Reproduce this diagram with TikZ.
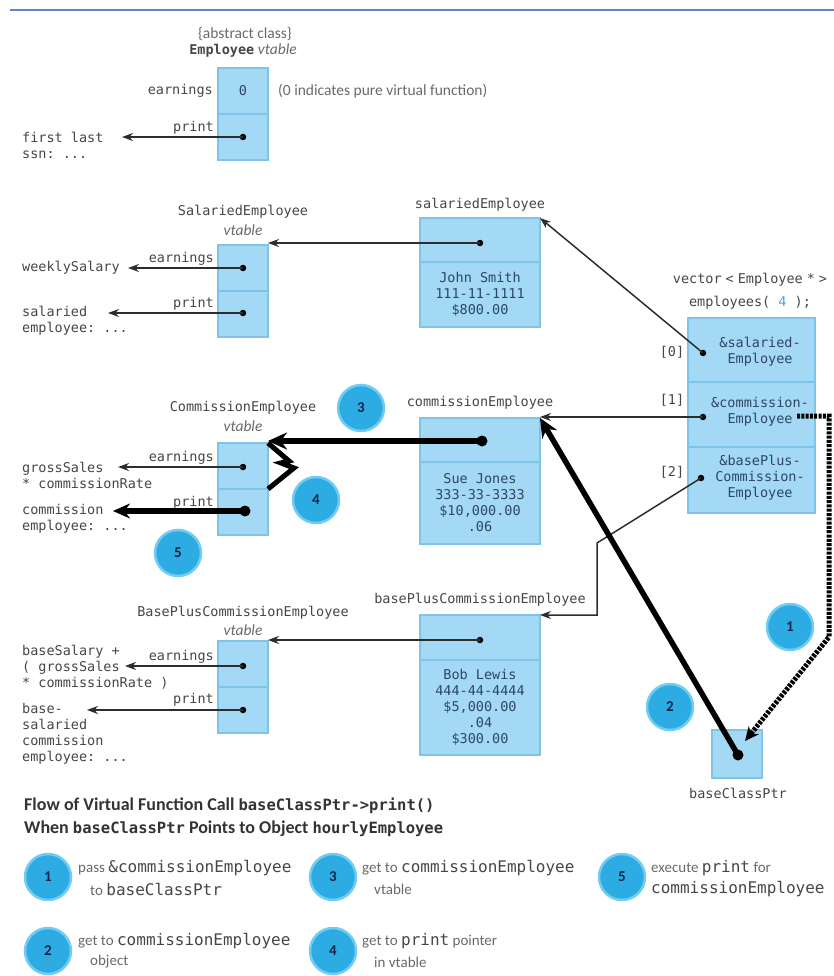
\documentclass[tikz,border=0pt]{standalone}
\usepackage{fontspec}
\setmainfont{Carlito}
\setmonofont{DejaVu Sans Mono}
\usetikzlibrary{positioning,arrows.meta}

\definecolor{cellblue}{RGB}{163,217,245}
\definecolor{celledge}{RGB}{128,195,232}
\definecolor{celltext}{RGB}{45,70,100}
\definecolor{bubblefill}{RGB}{45,172,228}
\definecolor{bubblerim}{RGB}{115,205,242}
\definecolor{navy}{RGB}{20,35,70}
\definecolor{ink}{RGB}{70,70,70}
\definecolor{softink}{RGB}{105,105,105}
\definecolor{arrowink}{RGB}{45,45,45}
\definecolor{rulecol}{RGB}{95,135,200}
\definecolor{numblue}{RGB}{70,165,225}

\newcommand{\mono}{\ttfamily\fontsize{13.5}{16}\selectfont}
\newcommand{\notefont}{\fontsize{15.5}{18}\selectfont}
\newcommand{\legfont}{\fontsize{15}{20}\selectfont}
\newcommand{\legmono}{\ttfamily\fontsize{16}{20}\selectfont}
\newcommand{\titlemono}{\ttfamily\fontsize{15.5}{18}\selectfont}
\newcommand{\gap}{\hspace{4pt}}

\tikzset{
  cell/.style={draw=celledge, fill=cellblue, line width=1.6pt, inner sep=0pt, outer sep=0pt,
    minimum width=50pt, minimum height=46pt, text=celltext, font=\mono, align=center},
  code/.style={font=\mono, text=ink, inner sep=0pt},
  lbl/.style={font=\notefont, text=softink, inner sep=0pt},
  legtext/.style={font=\legfont, text=softink, inner sep=0pt, anchor=west},
  legtitle/.style={anchor=west, inner sep=0pt, text=black!80, font=\fontsize{18}{22}\selectfont\bfseries},
  ptr/.style={draw=arrowink, line width=1.5pt, -{Stealth[length=11pt,width=8pt]}},
  hotptr/.style={draw=black, line width=5.5pt, -{Stealth[length=19pt,width=17pt]}},
  zig/.style={draw=black, line width=5pt, line join=miter},
  passline/.style={draw=black, line width=5pt, dash pattern=on 3pt off 1.3pt,
    -{Stealth[length=14pt,width=13pt]}},
  ptrdot/.style={circle, fill=black, inner sep=0pt, minimum size=6.5pt},
  bigdot/.style={circle, fill=black, inner sep=0pt, minimum size=11pt},
  bubble/.style={circle, fill=bubblefill, draw=bubblerim, line width=2.5pt, minimum size=46pt,
    inner sep=0pt, text=navy, font=\fontsize{15}{15}\selectfont\bfseries},
}

\begin{document}
\begin{tikzpicture}[x=1pt, y=-1pt]
    \useasboundingbox (0,0) rectangle (834,976);
    % rule at the top
    \draw[rulecol, line width=2pt] (10,10) -- (834,10);

    % Employee vtable
    \node[lbl] (ev-note) at (245,34) {\{abstract class\}};
    \node[lbl] (ev-title) at (243,51) {{\mono\bfseries\color{ink}Employee} \textit{vtable}};
    \node[cell, anchor=north west] (ev0) at (218,68) {0};
    \node[cell, anchor=north west] (ev1) at (218,114) {};
    \node[code, anchor=east] (ev0-l) at (213,91) {earnings};
    \node[lbl, anchor=west] (ev-zero) at (278,91) {(0 indicates pure virtual function)};
    \node[code, anchor=base east] (ev1-l) at (214,132) {print};
    \node[ptrdot] (ev1-d) at (243,137) {};
    \coordinate (ev1-t) at (122,137);
    \node[code, anchor=west, align=left] (ev1-txt) at (22,145) {first last\\ssn: ...};
    \draw[ptr] (ev1-d.center) -- (ev1-t);

    % SalariedEmployee vtable
    \node[code] (sv-title) at (243,212) {SalariedEmployee};
    \node[lbl] (sv-vt) at (243,230) {\textit{vtable}};
    \node[cell, anchor=north west] (sv0) at (218,245) {};
    \node[cell, anchor=north west] (sv1) at (218,291) {};
    \node[code, anchor=base east] (sv0-l) at (214,262) {earnings};
    \node[code, anchor=base east] (sv1-l) at (214,307) {print};
    \node[ptrdot] (sv0-d) at (243,268) {};
    \node[ptrdot] (sv1-d) at (243,313) {};
    \coordinate (sv0-t) at (128,268);
    \coordinate (sv1-t) at (108,313);
    \node[code, anchor=west] (sv0-txt) at (22,268) {weeklySalary};
    \node[code, anchor=west, align=left] (sv1-txt) at (22,321) {salaried\\employee: ...};
    \draw[ptr] (sv0-d.center) -- (sv0-t);
    \draw[ptr] (sv1-d.center) -- (sv1-t);

    % salariedEmployee object
    \node[code] (so-name) at (480,205) {salariedEmployee};
    \node[cell, anchor=north west, minimum width=120pt, minimum height=44pt] (so0) at (420,218) {};
    \node[cell, anchor=north west, minimum width=120pt, minimum height=65pt] (so1) at (420,262)
        {John Smith\\111-11-1111\\\$800.00};
    \node[ptrdot] (so-d) at (480,243) {};
    \draw[ptr] (so-d.center) -- (so-d.center -| sv0.east);

    % vector of base class pointers
    \node[code] (vec-type) at (750,280) {vector\gap<\gap Employee\gap*\gap>};
    \node[code] (vec-name) at (750,303) {employees( {\color{numblue}4} );};
    \node[cell, anchor=north west, minimum width=127pt, minimum height=64pt] (v0) at (688,318) {};
    \node[cell, anchor=north west, minimum width=127pt, minimum height=65pt] (v1) at (688,382) {};
    \node[cell, anchor=north west, minimum width=127pt, minimum height=66pt] (v2) at (688,447) {};
    \node[code, text=celltext, align=center] (v0-txt) at (760,352) {\&salaried-\\Employee};
    \node[code, text=celltext, align=center] (v1-txt) at (760,412) {\&commission-\\Employee};
    \node[code, text=celltext, align=center] (v2-txt) at (760,478) {\&basePlus-\\Commission-\\Employee};
    \node[code] (v0-i) at (672,352) {[0]};
    \node[code] (v1-i) at (672,400) {[1]};
    \node[code] (v2-i) at (672,472) {[2]};
    \node[ptrdot] (v0-d) at (703,353) {};
    \node[ptrdot] (v1-d) at (703,417) {};
    \node[ptrdot] (v2-d) at (701,478) {};

    % commissionEmployee object
    \node[code] (co-name) at (480,403) {commissionEmployee};
    \node[cell, anchor=north west, minimum width=120pt, minimum height=44pt] (co0) at (420,418) {};
    \node[cell, anchor=north west, minimum width=120pt, minimum height=82pt] (co1) at (420,462)
        {Sue Jones\\333-33-3333\\\$10,000.00\\.06};
    \node[bigdot] (co-d) at (482,441) {};

    % CommissionEmployee vtable
    \node[code] (cv-title) at (243,408) {CommissionEmployee};
    \node[lbl] (cv-vt) at (243,426) {\textit{vtable}};
    \node[cell, anchor=north west] (cv0) at (218,443) {};
    \node[cell, anchor=north west] (cv1) at (218,489) {};
    \node[code, anchor=base east] (cv0-l) at (214,461) {earnings};
    \node[code, anchor=base east] (cv1-l) at (214,506) {print};
    \node[ptrdot] (cv0-d) at (243,467) {};
    \node[bigdot] (cv1-d) at (245,511) {};
    \coordinate (cv0-t) at (118,467);
    \coordinate (cv1-t) at (113,511);
    \node[code, anchor=west, align=left] (cv0-txt) at (22,475) {grossSales\\* commissionRate};
    \node[code, anchor=west, align=left] (cv1-txt) at (22,519) {commission\\employee: ...};
    \draw[ptr] (cv0-d.center) -- (cv0-t);
    \draw[hotptr, -{Stealth[length=17pt,width=15pt]}] (cv1-d.center) -- (cv1-t);

    % basePlusCommissionEmployee object
    \node[code] (bo-name) at (480,600) {basePlusCommissionEmployee};
    \node[cell, anchor=north west, minimum width=120pt, minimum height=45pt] (bo0) at (420,615) {};
    \node[cell, anchor=north west, minimum width=120pt, minimum height=95pt] (bo1) at (420,660)
        {Bob Lewis\\444-44-4444\\\$5,000.00\\.04\\\$300.00};
    \node[ptrdot] (bo-d) at (480,640) {};

    % BasePlusCommissionEmployee vtable
    \node[code] (bv-title) at (243,613) {BasePlusCommissionEmployee};
    \node[lbl] (bv-vt) at (243,630) {\textit{vtable}};
    \node[cell, anchor=north west] (bv0) at (218,641) {};
    \node[cell, anchor=north west] (bv1) at (218,687) {};
    \node[code, anchor=base east] (bv0-l) at (214,660) {earnings};
    \node[code, anchor=base east] (bv1-l) at (214,703) {print};
    \node[ptrdot] (bv0-d) at (243,666) {};
    \node[ptrdot] (bv1-d) at (243,710) {};
    \coordinate (bv0-t) at (125,666);
    \coordinate (bv1-t) at (87,710);
    \node[code, anchor=west, align=left] (bv0-txt) at (22,667) {baseSalary +\\( grossSales\\* commissionRate )};
    \node[code, anchor=west, align=left] (bv1-txt) at (22,734) {base-\\salaried\\commission\\employee: ...};
    \draw[ptr] (bv0-d.center) -- (bv0-t);
    \draw[ptr] (bv1-d.center) -- (bv1-t);

    % baseClassPtr
    \node[cell, anchor=north west, minimum height=48pt] (bp) at (712,730) {};
    \node[code] (bp-name) at (738,793) {baseClassPtr};
    \node[bigdot] (bp-d) at (738,755) {};

    % pointers from the vector and the objects
    \coordinate (v2-bend) at (597,543);
    \draw[ptr] (v0-d.center) -- (so0.north east);
    \draw[ptr] (v1-d.center) -- (v1-d.center -| co0.east);
    \draw[ptr] (v2-d.center) -- (v2-bend) |- (bo0.north east);
    \draw[ptr] (bo-d.center) -- (bo-d.center -| bv0.east);

    % flow of the call
    \coordinate (pass-start) at (797,416);
    \coordinate (pass-bend) at (829,637);
    \coordinate (pass-tip) at (745,741);
    \draw[passline] (pass-start) -| (pass-bend) -- (pass-tip);
    \draw[hotptr] (bp-d.center) -- (co0.north east);
    \draw[hotptr] (co-d.center) -- (co-d.center -| cv0.east);
    \draw[zig] (cv0.north east) -- (289,461) -- (281,463) -- (294,468) -- (cv0.south east);

    % step bubbles
    \node[bubble] (b1) at (790,627) {1};
    \node[bubble] (b2) at (670,707) {2};
    \node[bubble] (b3) at (361,408) {3};
    \node[bubble] (b4) at (316,500) {4};
    \node[bubble] (b5) at (178,553) {5};

    % legend
    \node[legtitle] (leg-t1) at (24,806)
        {Flow of Virtual Function Call {\titlemono baseClassPtr->print()}};
    \node[legtitle] (leg-t2) at (24,829)
        {When {\titlemono baseClassPtr} Points to Object {\titlemono hourlyEmployee}};

    \node[bubble] (l1) at (48,877) {1};
    \node[bubble] (l2) at (48,951) {2};
    \node[bubble] (l3) at (333,877) {3};
    \node[bubble] (l4) at (333,951) {4};
    \node[bubble] (l5) at (622,877) {5};

    \node[legtext] (l1-a) at (78,868) {pass {\legmono\color{ink}\&commissionEmployee}};
    \node[legtext] (l1-b) at (90,889) {to {\legmono\color{ink}baseClassPtr}};
    \node[legtext] (l2-a) at (78,941) {get to {\legmono\color{ink}commissionEmployee}};
    \node[legtext] (l2-b) at (90,962) {object};
    \node[legtext] (l3-a) at (362,868) {get to {\legmono\color{ink}commissionEmployee}};
    \node[legtext] (l3-b) at (374,889) {vtable};
    \node[legtext] (l4-a) at (362,941) {get to {\legmono\color{ink}print} pointer};
    \node[legtext] (l4-b) at (374,962) {in vtable};
    \node[legtext] (l5-a) at (651,868) {execute {\legmono\color{ink}print} for};
    \node[legtext] (l5-b) at (651,889) {\legmono\color{ink}commissionEmployee};
\end{tikzpicture}
\end{document}
